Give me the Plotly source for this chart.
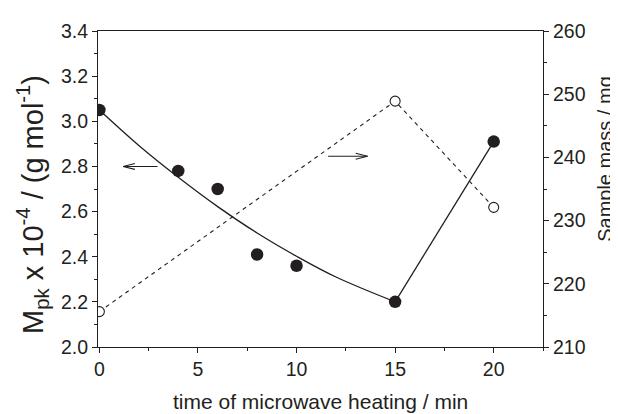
import plotly.graph_objects as go

# Data
time_mpk = [0, 4, 6, 8, 10, 15, 20]
mpk = [3.05, 2.78, 2.70, 2.41, 2.36, 2.20, 2.91]

# fitted trend curve, then straight segment to last point
curve_t = [0, 2, 4, 6, 8, 10, 12, 15]
curve_v = [3.05, 2.893, 2.752, 2.622, 2.505, 2.402, 2.31, 2.20]
seg_t = [15, 20]
seg_v = [2.20, 2.91]

time_mass = [0, 15, 20]
mass = [215.6, 248.9, 232.1]

# arrows: tail/tip on time axis, level on left axis
arrow_left = dict(tail=2.95, tip=1.2, y=2.80)
arrow_right = dict(tail=11.6, tip=13.6, y=2.845)

xticks = [0, 5, 10, 15, 20]
yticks = [2.0, 2.2, 2.4, 2.6, 2.8, 3.0, 3.2, 3.4]
y2ticks = [210, 220, 230, 240, 250, 260]

x_title = "time of microwave heating / min"
y_title = "M<sub>pk</sub> x 10<sup>-4</sup> / (g mol<sup>-1</sup>)"
y2_title = "Sample mass / mg"

INK = "#231f20"
FONT = "Liberation Sans, Arial, sans-serif"

fig = go.Figure()
fig.add_trace(go.Scatter(x=curve_t, y=curve_v, mode="lines",
                         line=dict(color=INK, width=1.3, shape="spline", smoothing=1.0),
                         showlegend=False, hoverinfo="skip"))
fig.add_trace(go.Scatter(x=seg_t, y=seg_v, mode="lines",
                         line=dict(color=INK, width=1.3),
                         showlegend=False, hoverinfo="skip"))
fig.add_trace(go.Scatter(x=time_mpk, y=mpk, mode="markers",
                         marker=dict(color=INK, size=12.5, line=dict(width=0)),
                         showlegend=False))
fig.add_trace(go.Scatter(x=time_mass, y=mass, mode="lines+markers", yaxis="y2",
                         line=dict(color=INK, width=1.1, dash="4px,4px"),
                         marker=dict(color="white", size=10, line=dict(color=INK, width=1.1)),
                         showlegend=False))

# arrows drawn as thin open chevrons
def add_arrow(a, yref):
    fig.add_shape(type="line", xref="x", yref=yref, x0=a["tail"], x1=a["tip"],
                  y0=a["y"], y1=a["y"], line=dict(color=INK, width=1.1))
    d = 1 if a["tail"] > a["tip"] else -1
    for s in (-1, 1):
        fig.add_shape(type="line", xref="x", yref=yref,
                      x0=a["tip"], y0=a["y"],
                      x1=a["tip"] + d * 0.6, y1=a["y"] + s * 0.013,
                      line=dict(color=INK, width=1.1))

add_arrow(arrow_left, "y")
add_arrow(arrow_right, "y")

axis_common = dict(showline=True, linecolor=INK, linewidth=1.1, ticks="outside",
                   tickcolor=INK, tickwidth=1.1, ticklen=5, showgrid=False,
                   zeroline=False, tickfont=dict(size=19.5, color=INK, family=FONT))

# page body adds an 8px margin, so the figure is 8px smaller on each axis
fig.update_layout(
    width=610, height=406,
    margin=dict(l=90, r=75, t=14, b=67),
    paper_bgcolor="white", plot_bgcolor="white",
    font=dict(family=FONT, color=INK),
    xaxis=dict(range=[-0.07, 22.5], tickvals=xticks, mirror=True,
               minor=dict(dtick=2.5, tick0=0, ticks="outside", ticklen=3, tickcolor=INK, tickwidth=1),
               **axis_common),
    yaxis=dict(range=[2.0, 3.4], tickvals=yticks, tickformat=".1f",
               minor=dict(dtick=0.1, tick0=2.0, ticks="outside", ticklen=3, tickcolor=INK, tickwidth=1),
               **axis_common),
    yaxis2=dict(range=[210, 260], tickvals=y2ticks, overlaying="y", side="right",
                minor=dict(dtick=5, tick0=210, ticks="outside", ticklen=3, tickcolor=INK, tickwidth=1),
                **axis_common),
    annotations=[
        dict(text=x_title, xref="paper", yref="paper", x=0.499, y=-0.172,
             xanchor="center", yanchor="middle", showarrow=False,
             font=dict(size=21, color=INK, family=FONT)),
        dict(text=y_title, xref="paper", yref="paper", x=-0.148, y=0.45,
             xanchor="center", yanchor="middle", showarrow=False, textangle=-90,
             font=dict(size=29, color=INK, family=FONT)),
        dict(text=y2_title, xref="paper", yref="paper", x=1.139, y=0.595,
             xanchor="center", yanchor="middle", showarrow=False, textangle=-90,
             font=dict(size=20, color=INK, family=FONT)),
    ],
)

fig.write_html("out.html")
